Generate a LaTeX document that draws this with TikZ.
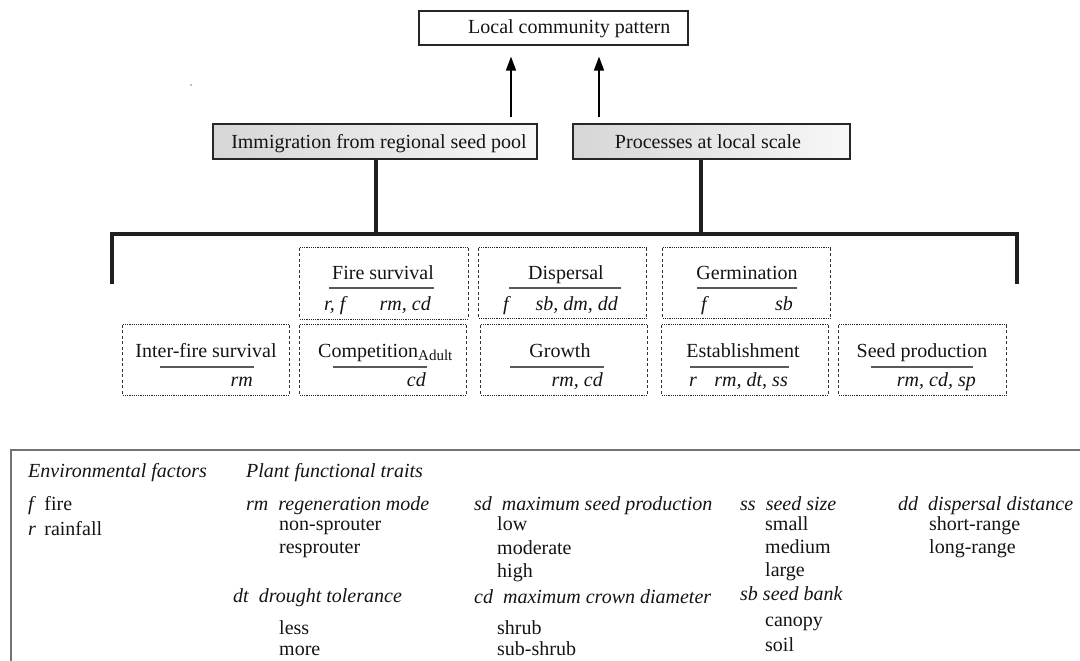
\documentclass[tikz,border=0pt]{standalone}
\usepackage{fontspec}
\setmainfont{Liberation Serif}
\usetikzlibrary{arrows.meta,calc}
\begin{document}
\begin{tikzpicture}[x=1pt,y=-1pt,
  every node/.style={font=\fontsize{20}{24}\selectfont, inner sep=0pt, text=black!92},
  topbox/.style={draw=black!85, line width=1.2pt, fill=white, minimum width=269pt, minimum height=34pt},
  graybox/.style={draw=black!85, line width=1.2pt, left color=black!16, right color=black!3, minimum height=35pt},
  pbox/.style={draw=none, minimum width=167pt},
  hdot/.style={draw=black!85, line width=1pt, dash pattern=on 1.1pt off 1.1pt},
  vdash/.style={draw=black!80, line width=1pt, dash pattern=on 3pt off 2.5pt},
  uline/.style={draw=black!65, line width=1.4pt},
  bar/.style={draw=black!88, line width=4pt, line join=miter},
  arr/.style={draw=black, line width=1.6pt, -{Triangle[length=14pt,width=10pt]}},
  legbox/.style={draw=black!55, line width=1.4pt},
  lt/.style={anchor=base west},
  title/.style={anchor=base},
  trl/.style={anchor=base west, font=\fontsize{20}{24}\selectfont\itshape},
  trr/.style={anchor=base east, font=\fontsize{20}{24}\selectfont\itshape}
]
\useasboundingbox (0,0) rectangle (1080,661);
\newcommand\dotbox[1]{%
  \draw[hdot] (#1.north west) -- (#1.north east) (#1.south west) -- (#1.south east);
  \draw[vdash] (#1.north west) -- (#1.south west) (#1.north east) -- (#1.south east);}

% top box
\node[topbox] (top) at (553.5,28) {};
\node[anchor=base west] (toptxt) at (468,34) {Local community pattern};

% stray dot
\fill[black!50] (191,85) circle (0.8);

% gray boxes
\node[graybox, minimum width=324pt] (imm) at (375,141.5) {};
\node[anchor=base] (immtxt) at (379,148) {Immigration from regional seed pool};
\node[graybox, minimum width=277pt] (proc) at (711.5,141.5) {};
\node[anchor=base] (proctxt) at (708,148) {Processes at local scale};

% arrows
\coordinate (a1) at (511,0);
\coordinate (a2) at (599,0);
\draw[arr, shorten <=6pt, shorten >=11pt] (imm.north -| a1) -- (top.south -| a1);
\draw[arr, shorten <=6pt, shorten >=11pt] (proc.north -| a2) -- (top.south -| a2);

% thick bracket
\coordinate (j1) at (376,234);
\coordinate (j2) at (701,234);
\coordinate (lend) at (112,284);
\coordinate (rend) at (1017,284);
\draw[bar] (imm.south -| j1) -- (j1);
\draw[bar] (proc.south -| j2) -- (j2);
\draw[bar] (lend) -- (lend |- j1) -- (rend |- j1) -- (rend);

% process boxes, top row
\node[pbox, minimum width=168pt, minimum height=71pt] (fs) at (384,283.5) {};
\node[pbox, minimum height=70pt] (dis) at (562.5,283) {};
\node[pbox, minimum height=70pt] (ger) at (746.5,283) {};
% bottom row
\node[pbox, minimum width=166pt, minimum height=70pt] (ifs) at (206,360) {};
\node[pbox, minimum width=166pt, minimum height=70pt] (com) at (383,360) {};
\node[pbox, minimum width=166pt, minimum height=70pt] (gro) at (564,360) {};
\node[pbox, minimum width=166pt, minimum height=70pt] (est) at (745,360) {};
\node[pbox, minimum width=167pt, minimum height=70pt] (sp) at (922.5,360) {};
\dotbox{fs}\dotbox{dis}\dotbox{ger}\dotbox{ifs}\dotbox{com}\dotbox{gro}\dotbox{est}\dotbox{sp}

% Fire survival
\node[title] (fst) at (383,279) {Fire survival};
\draw[uline] (329,288) -- (434,288);
\node[trl] (fsa) at (324,310) {r, f};
\node[trr] (fsb) at (431,310) {rm, cd};
% Dispersal
\node[title] (dist) at (566,279) {Dispersal};
\draw[uline] (509,288) -- (621,288);
\node[trl] (disa) at (503,310) {f};
\node[trr] (disb) at (618,310) {sb, dm, dd};
% Germination
\node[title] (gert) at (747,279) {Germination};
\draw[uline] (697,288) -- (797,288);
\node[trl] (gera) at (701,310) {f};
\node[trr] (gerb) at (793,310) {sb};
% Inter-fire survival
\node[title] (ifst) at (206,357) {Inter-fire survival};
\draw[uline] (160,367) -- (254,367);
\node[trr] (ifsb) at (253,386) {rm};
% Competition
\node[anchor=base west] (comt) at (318,357) {Competition\textsubscript{\fontsize{15}{15}\selectfont Adult}};
\draw[uline] (333,367) -- (427,367);
\node[trr] (comb) at (426,386) {cd};
% Growth
\node[title] (grot) at (560,357) {Growth};
\draw[uline] (510,367) -- (604,367);
\node[trr] (grob) at (603,386) {rm, cd};
% Establishment
\node[title] (estt) at (743,357) {Establishment};
\draw[uline] (690,367) -- (789,367);
\node[trl] (esta) at (689,386) {r};
\node[trr] (estb) at (788,386) {rm, dt, ss};
% Seed production
\node[title] (spt) at (922,357) {Seed production};
\draw[uline] (871,367) -- (973,367);
\node[trr] (spb) at (976,386) {rm, cd, sp};

% legend
\draw[legbox] (11,450) rectangle (1095,680);
\node[trl] (envh) at (28,477) {Environmental factors};
\node[trl] (pfth) at (246,477) {Plant functional traits};
\node[lt] (ff) at (28,510) {\textit{f}\, fire};
\node[lt] (rr) at (28,535) {\textit{r}\, rainfall};

\node[trl] (rmh) at (246,510) {rm\ \ regeneration mode};
\node[lt] (rm1) at (279,530) {non-sprouter};
\node[lt] (rm2) at (279,553) {resprouter};
\node[trl] (dth) at (233,602) {dt\ \ drought tolerance};
\node[lt] (dt1) at (279,634) {less};
\node[lt] (dt2) at (279,655) {more};

\node[trl] (sdh) at (474,510) {sd\ \ maximum seed production};
\node[lt] (sd1) at (497,530) {low};
\node[lt] (sd2) at (497,554) {moderate};
\node[lt] (sd3) at (497,577) {high};
\node[trl] (cdh) at (474,603) {cd\ \ maximum crown diameter};
\node[lt] (cd1) at (497,634) {shrub};
\node[lt] (cd2) at (497,655) {sub-shrub};

\node[trl] (ssh) at (740,510) {ss\ \ seed size};
\node[lt] (ss1) at (765,530) {small};
\node[lt] (ss2) at (765,553) {medium};
\node[lt] (ss3) at (765,576) {large};
\node[trl] (sbh) at (740,600) {sb seed bank};
\node[lt] (sb1) at (765,626) {canopy};
\node[lt] (sb2) at (765,651) {soil};

\node[trl] (ddh) at (898,510) {dd\ \ dispersal distance};
\node[lt] (dd1) at (929,530) {short-range};
\node[lt] (dd2) at (929,553) {long-range};
\end{tikzpicture}
\end{document}
